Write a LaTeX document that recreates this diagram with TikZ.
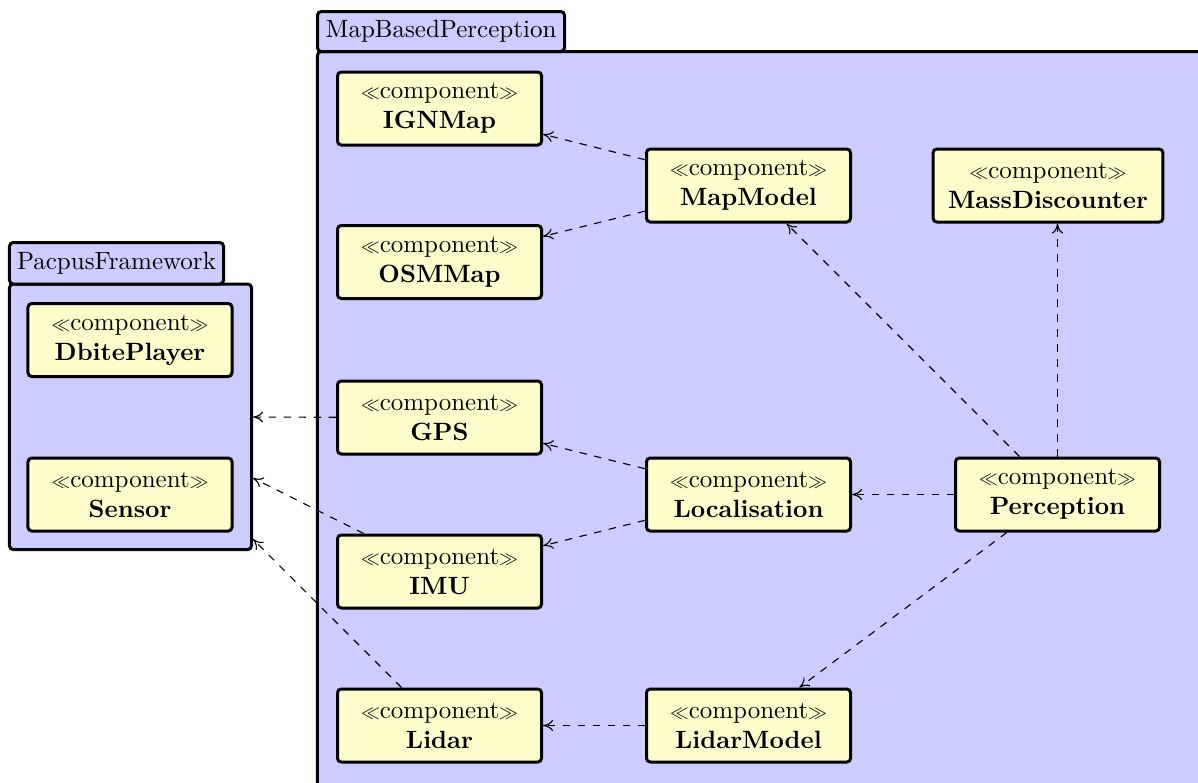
\documentclass[tikz,border=0pt]{standalone}
\usepackage{graphicx}
\usetikzlibrary{arrows.meta}
\newcommand{\stereo}{\scalebox{0.75}{$\ll$}component\scalebox{0.75}{$\gg$}}
\begin{document}
\begin{tikzpicture}[x=0.4pt,y=-0.4pt,
  comp/.style={draw,line width=1.2pt,fill=yellow!20,rounded corners=1.5pt,
    minimum width=81.6pt,minimum height=29.2pt,inner xsep=6pt,inner ysep=2pt,align=center},
  pkg/.style={draw,line width=1.2pt,fill=blue!20,rounded corners=1.5pt,inner sep=0pt},
  dep/.style={dashed,-{To[length=4pt,width=4.4pt]},line width=0.45pt}]
\clip (0,0) rectangle (1198,782);
% packages
\node[pkg,minimum width=96.8pt,minimum height=106.2pt] (pacpus) at (130.5,416.75) {};
\node[pkg,minimum width=85.6pt,minimum height=16.6pt] (pacpustab) at (116.5,263.25) {PacpusFramework};
\node[pkg,minimum width=361pt,minimum height=299.4pt] (mbp) at (768.75,425.75) {};
\node[pkg,minimum width=98.8pt,minimum height=16pt] (mbptab) at (441,31.5) {MapBasedPerception};
% components
\node[comp] (dbite) at (130,340) {\stereo\\\textbf{DbitePlayer}};
\node[comp] (sensor) at (130,494.5) {\stereo\\\textbf{Sensor}};
\node[comp] (ign) at (439.5,108.5) {\stereo\\\textbf{IGNMap}};
\node[comp] (osm) at (439.5,262) {\stereo\\\textbf{OSMMap}};
\node[comp] (mapmodel) at (748.5,185.5) {\stereo\\\textbf{MapModel}};
\node[comp] (mass) at (1048,185.5) {\stereo\\\textbf{MassDiscounter}};
\node[comp] (gps) at (439.5,417.5) {\stereo\\\textbf{GPS}};
\node[comp] (loc) at (748.5,494.5) {\stereo\\\textbf{Localisation}};
\node[comp] (perc) at (1057.5,494.5) {\stereo\\\textbf{Perception}};
\node[comp] (imu) at (439.5,571.5) {\stereo\\\textbf{IMU}};
\node[comp] (lidar) at (439.5,725.5) {\stereo\\\textbf{Lidar}};
\node[comp] (lidarmodel) at (748.5,725.5) {\stereo\\\textbf{LidarModel}};
% dependencies
\draw[dep] (mapmodel) -- (ign);
\draw[dep] (mapmodel) -- (osm);
\draw[dep] (gps) -- (pacpus);
\draw[dep] (imu) -- (pacpus);
\draw[dep] (lidar) -- (pacpus);
\draw[dep] (loc) -- (gps);
\draw[dep] (loc) -- (imu);
\draw[dep] (perc) -- (loc);
\draw[dep] (perc) -- (mapmodel);
\draw[dep] (perc.north) -- (perc.north |- mass.south);
\draw[dep] (perc) -- (lidarmodel);
\draw[dep] (lidarmodel) -- (lidar);
\end{tikzpicture}
\end{document}
